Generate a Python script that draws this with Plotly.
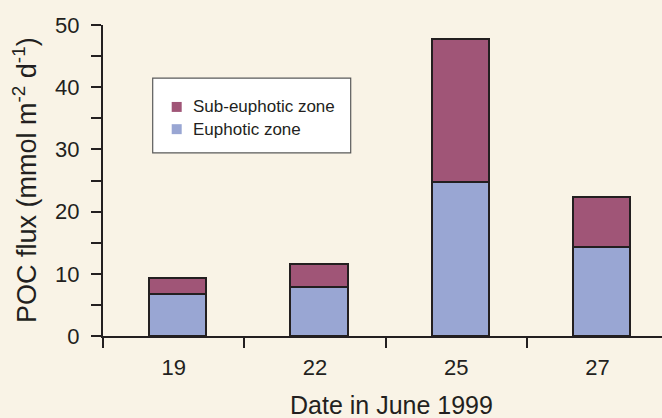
import plotly.graph_objects as go

dates = ["19", "22", "25", "27"]
euphotic = [6.8, 7.8, 24.7, 14.3]
sub_euphotic = [2.5, 3.7, 23.0, 8.1]
series_names = ["Sub-euphotic zone", "Euphotic zone"]
y_ticks = [0, 10, 20, 30, 40, 50]
y_minor_ticks = [5, 15, 25, 35, 45]

BG = "#F9F3E6"
INK = "#231F20"
C_EU = "#99A6D3"
C_SUB = "#A05577"
FONT = "Liberation Sans, Arial, sans-serif"

W, H = 662, 418
ML, MR, MT, MB = 103, 0, 24.5, 81.5
PW, PH = W - ML - MR, H - MT - MB

def px(x):
    return (x - ML) / PW

def py(y):
    return (H - MB - y) / PH

fig = go.Figure()
bar_w = 0.405
bar_off = -bar_w / 2 + 0.028
fig.add_trace(go.Bar(x=dates, y=euphotic, name=series_names[1], showlegend=False,
                     marker=dict(color=C_EU, line=dict(color=INK, width=2)),
                     width=bar_w, offset=bar_off))
fig.add_trace(go.Bar(x=dates, y=sub_euphotic, name=series_names[0], showlegend=False,
                     marker=dict(color=C_SUB, line=dict(color=INK, width=2)),
                     width=bar_w, offset=bar_off))

# legend box drawn by hand for exact spacing
shapes = [dict(type="rect", xref="paper", yref="paper",
               x0=px(152.7), x1=px(350.7), y0=py(152.7), y1=py(77.7),
               fillcolor="white", line=dict(color="#5A5A5A", width=1.2), layer="above")]
annotations = []
for name, col, yc in zip(series_names, [C_SUB, C_EU], [106.7, 129.0]):
    shapes.append(dict(type="rect", xref="paper", yref="paper",
                       x0=px(171.7), x1=px(181.7), y0=py(yc + 5), y1=py(yc - 5),
                       fillcolor=col, line=dict(width=0), layer="above"))
    annotations.append(dict(text=name, xref="paper", yref="paper", x=px(191), y=py(yc),
                            xanchor="left", yanchor="middle", showarrow=False,
                            font=dict(size=17, color=INK)))

annotations += [
    dict(text="Date in June 1999", xref="paper", yref="paper", x=px(391.5), y=py(406),
         xanchor="center", yanchor="middle", showarrow=False, font=dict(size=25, color=INK)),
    dict(text="POC flux (mmol m<sup>-2</sup> d<sup>-1</sup>)", xref="paper", yref="paper",
         x=px(25), y=py(180), xanchor="center", yanchor="middle", textangle=-90,
         showarrow=False, font=dict(size=27, color=INK)),
]

fig.update_layout(
    width=W, height=H,
    margin=dict(l=ML, r=MR, t=MT, b=MB),
    paper_bgcolor=BG, plot_bgcolor=BG,
    barmode="stack",
    showlegend=False,
    font=dict(family=FONT, color=INK, size=22),
    shapes=shapes,
    annotations=annotations,
)
fig.update_xaxes(type="category", range=[-0.5, 3.456], tickson="boundaries",
                 ticks="outside", ticklen=10, tickwidth=2, tickcolor=INK,
                 showline=True, linewidth=2, linecolor=INK, showgrid=False,
                 zeroline=False, tickfont=dict(size=22, color=INK), ticklabelstandoff=11)
fig.update_yaxes(range=[0, 50], tickvals=y_ticks,
                 ticks="outside", ticklen=10, tickwidth=2, tickcolor=INK,
                 minor=dict(tickvals=y_minor_ticks, ticks="outside", ticklen=10,
                            tickwidth=2, tickcolor=INK, showgrid=False),
                 showline=True, linewidth=2, linecolor=INK, showgrid=False,
                 zeroline=False, tickfont=dict(size=22, color=INK), ticklabelstandoff=7)

fig.write_html("out.html", config={"displayModeBar": False},
               post_script="document.body.style.margin='0';document.body.style.background='%s';" % BG)
